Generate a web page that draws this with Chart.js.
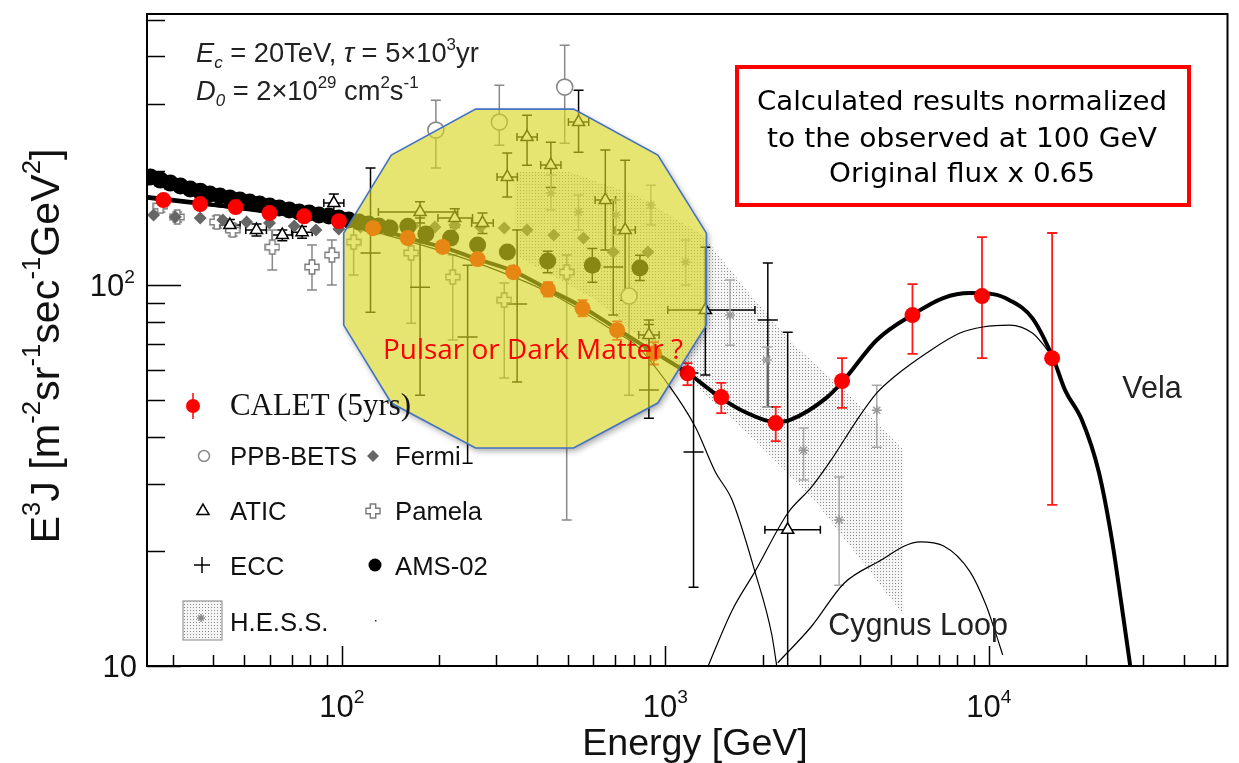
<!DOCTYPE html>
<html>
<head>
<meta charset="utf-8">
<script src="https://cdn.jsdelivr.net/npm/chart.js@4.4.1/dist/chart.umd.min.js"></script>
<style>
html,body{margin:0;padding:0;background:#fff;}
#chart{display:block;}
</style>
</head>
<body>
<canvas id="chart" width="1239" height="763"></canvas>
<script>
'use strict';

// CALET (5yrs) : energy [GeV], E^3 J, error low / high
var calet_E  = [28.1,36.5,47,59.8,76.5,98,125,160,205,263,339,434,555,710,922,1172,1490,2195,3520,5810,9530,15700];
var calet_J  = [167.7,163.7,160.7,155,152,147.6,141.5,133.3,126.3,117.3,108.4,97.7,87.1,76.3,66.4,58.8,50.9,43.5,56.1,83.6,93.8,64.4];
var calet_lo = [164,160,157,151,148,143.5,137.5,129.5,122.5,113.5,104.5,93.5,83,72,62,54.7,46.2,39,47.7,66.1,64.4,26.5];
var calet_hi = [171,167,164.5,159,156,151.5,145.5,137,130,121,112.5,102,91.5,80.5,71,62.5,55.5,48,64.4,100.8,134,137.4];

// AMS-02
var ams_E  = [25.6,27.5,29.5,31.7,34.0,36.5,39.1,42.0,45.1,48.4,51.9,55.7,59.8,64.1,68.8,73.8,79.2,85.0,91.2,97.9,105,113,121,130,141,160,182,217,263,325,433,595,835];
var ams_J  = [192.7,189.2,185.8,182.5,179.2,177.0,173.9,171.8,169.7,167.7,165.7,163.7,161.7,159.8,157.8,155.9,155.0,153.1,152.2,150.4,148.6,146.8,145.0,143.3,141.6,143.2,136.5,133.2,127.7,122.4,115.9,113.1,111.1];
var ams_lo = [null,null,null,null,null,null,null,null,null,null,null,null,null,null,null,null,null,null,null,null,null,null,null,null,null,null,null,null,124,118,108,102,103];
var ams_hi = [null,null,null,null,null,null,null,null,null,null,null,null,null,null,null,null,null,null,null,null,null,null,null,null,null,null,null,null,131,127,123,125,120];

// Fermi
var fermi_E = [26.2,30.6,36.5,42.9,50.8,59.8,71.3,83.2,97.9,114.3,139.3,166.2,194.1,223.5,268.5,317.9,373.9,452.2,558.9,690.6,883.7];
var fermi_J = [153.1,151.3,150.4,148.6,146.8,145.9,143.3,139.8,140.7,142.4,144.1,143.3,142.4,144.1,142.4,141.6,139.8,135.7,133.2,122.4,122.4];

// Pamela
var pam_E  = [27.5,31.0,41.1,46.0,61.0,80.9,93.2,108.8,163.9,220.3,317.9,495.8];
var pam_J  = [161.7,151.3,146.8,139.8,126.1,111.8,120.2,130.0,121.7,105.2,91.5,108.4];
var pam_lo = [155.9,146.8,141.6,134.9,109.8,97.3,100.3,106.5,79.6,71.9,57.1,24.2];
var pam_hi = [167.7,155.9,152.2,145.0,139.8,127.7,131.6,153.1,142.4,120.2,101.5,120.2];

// ATIC
var atic_E   = [45.1,54.5,65.5,75.4,94.5,174.6,223.5,272.3,324.7,373.9,442.9,539.5,652.7,751.6,890,1330,2390];
var atic_J   = [144.1,139.8,135.7,138.1,164.7,155.9,150.4,145.9,192.7,245.5,207.3,268.8,167.7,139.8,74.1,86.2,22.8];
var atic_lo  = [139,135,131,133,156,146,142,137,170.8,207,181,224,123.9,91.5,68,58.2,9];
var atic_hi  = [149,145,140,143,174,166,159,155,222.8,280,238,326,227,213.5,79,126,75.4];
var atic_xlo = [42,50.5,61,70,88,129.8,198.3,252,302,348,412,502,607,700,828,1018,2032];
var atic_xhi = [48.5,58.5,70.5,81,101.5,228.2,253.7,294,349,402,476,580,702,808,957,1893,3016];

// PPB-BETS
var ppb_E  = [195.4,306.9,488.8,773];
var ppb_J  = [256.1,268.8,332.2,93.8];
var ppb_lo = [203.6,233.8,236.6,51.5];
var ppb_hi = [307,336,428,139.8];

// ECC
var ecc_E  = [122.7,174.6,244.9,348.4,690.6,890,1223,2075];
var ecc_J  = [121.7,99.0,73.2,89.4,111.8,53.1,36.5,81.1];
var ecc_lo = [85.1,51.5,34.1,55.8,83.6,44.8,16.1,47.9];
var ecc_hi = [203.5,150.4,113.1,139.8,167.7,81.1,58.9,114.5];

// H.E.S.S. points and systematic band
var hess_E  = [442.9,539.5,705.4,902.8,1156,1586,2060,2675,3448,4507];
var hess_J  = [174.9,155.9,153.1,162.7,115.2,83.6,63.7,36.9,24.2,47.0];
var hess_lo = [157.8,139.8,135.7,144.1,100.3,69.7,47.9,30.8,16.3,37.6];
var hess_hi = [195.1,172.8,167.7,183.5,131.6,103.3,68.9,42.2,31.4,54.7];
var hessBand_upE = [343,506,812,1302,1893,2510,3571,5453];
var hessBand_up  = [198.6,198.6,172.8,135.7,91.5,69.7,53.1,36.9];
var hessBand_loE = [343,612,1340,1893,2890,5453];
var hessBand_lo  = [120.2,91.5,51.5,39.2,27.3,13.6];

// model curves
var total_E = [25.1,36.5,59.8,97.9,125.3,160.4,205.3,262.8,338.8,433.6,555.1,710.4,922.1,1172,1489,1764,2180,2424,3168,3546,4507,5853,7231,8746,10287,11597,13637,15815,17212,19406,21878,23977,25725,27610];
var total_J = [170.8,164.7,155.9,147.7,142.4,133.2,126.1,117.3,109.1,97.8,87.7,76.8,66.8,58.9,50.6,46.5,43.8,44.3,50.9,56.1,71.9,84.1,92.7,95.5,94.9,91.5,82.1,64.4,53.1,44.3,32.4,21.7,14.5,9.5];
var bg_E   = [25.1,97.9,160.4,262.8,433.6,710.4,812.2,1025,1240,1427,1609,1893,2134,2227];
var bg_J   = [168.7,145.9,130.8,114.5,96.1,75.0,69.7,54.7,42.4,32.4,27.3,17.7,12.1,9.6];
var vela_E = [1330,1609,1893,2390,2830,3258,3913,4507,5082,6412,8151,9586,11597,13637,14942,15815];
var vela_J = [9.6,14.0,17.7,25.2,29.5,34.8,44.3,52.2,57.4,66.4,75.0,77.8,78.7,75.0,68.9,64.4];
var cyg_E  = [2227,2830,3571,4507,6147,7231,8746,9790,10505,11040];
var cyg_J  = [10.2,12.7,16.5,18.7,21.2,20.7,17.7,14.5,12.2,10.7];

// highlighted region (yellow 12-gon)
var blob_E = [101.4,142.3,259.2,520.9,948.5,1340,1340,948.5,520.9,259.2,142.3,101.4];
var blob_J = [137.3,220.1,290.8,290.8,220.1,137.3,78.7,49.1,37.4,37.4,49.1,78.7];

// axis ranges and tick labels
var xMin = 25, xMax = 54700;
var yMin = 10, yMax = 517;
var xLabelVals = [100, 1000, 10000];
var xLabelExp  = ['2', '3', '4'];
var yLabelVals = [10, 100];
var yLabelExp  = ['', '2'];

var SANS = '"Liberation Sans", Arial, sans-serif';
var SERIF = '"Liberation Serif", "Times New Roman", serif';

function pts(E, J) {
	return E.map(function(e, i) { return {x: e, y: J[i]}; });
}

//空心十字 (Pamela)
function openCross(size, color) {
	var c = document.createElement('canvas');
	c.width = size; c.height = size;
	var g = c.getContext('2d');
	var a = size / 2, t = size * 0.17, L = size / 2 - 1;
	var p = [[-t,-L],[t,-L],[t,-t],[L,-t],[L,t],[t,t],[t,L],[-t,L],[-t,t],[-L,t],[-L,-t],[-t,-t]];
	g.beginPath();
	p.forEach(function(q, i) { if (i === 0) g.moveTo(a + q[0], a + q[1]); else g.lineTo(a + q[0], a + q[1]); });
	g.closePath();
	g.fillStyle = '#fff'; g.fill();
	g.strokeStyle = color; g.lineWidth = 1.4; g.stroke();
	return c;
}
var pamImg = openCross(16, '#7a7a7a');

function stipple(ctx) {
	var c = document.createElement('canvas');
	c.width = 3; c.height = 3;
	var g = c.getContext('2d');
	g.fillStyle = 'rgba(225,225,225,0.35)'; g.fillRect(0, 0, 3, 3);
	g.fillStyle = '#8c8c8c'; g.fillRect(1, 1, 1, 1);
	return ctx.createPattern(c, 'repeat');
}

function fitSize(ctx, text, family, width) {
	ctx.font = '100px ' + family;
	return 100 * width / ctx.measureText(text).width;
}

// text of a given height squeezed to a given width
function squeezeText(ctx, text, cx, cy, size, family, width) {
	ctx.font = size + 'px ' + family;
	var sx = width / ctx.measureText(text).width;
	ctx.save();
	ctx.translate(cx, cy + size * 0.36);
	ctx.scale(sx, 1);
	ctx.textAlign = 'center';
	ctx.textBaseline = 'alphabetic';
	ctx.fillText(text, 0, 0);
	ctx.restore();
}

function richFont(p, size, family) {
	var s = p.s ? size * 0.62 : size;
	return (p.i ? 'italic ' : '') + s.toFixed(1) + 'px ' + family;
}
function richWidth(ctx, parts, size, family) {
	var w = 0;
	parts.forEach(function(p) { ctx.font = richFont(p, size, family); w += ctx.measureText(p.t).width; });
	return w;
}
function drawRich(ctx, parts, x, y, size, family, align) {
	var w = richWidth(ctx, parts, size, family);
	var cx = align === 'center' ? x - w / 2 : (align === 'right' ? x - w : x);
	ctx.textAlign = 'left';
	ctx.textBaseline = 'alphabetic';
	parts.forEach(function(p) {
		ctx.font = richFont(p, size, family);
		var dy = p.s === 'sup' ? -size * 0.45 : (p.s === 'sub' ? size * 0.22 : 0);
		ctx.fillText(p.t, cx, y + dy);
		cx += ctx.measureText(p.t).width;
	});
}

//誤差棒 + H.E.S.S. 帶
var underlay = {
	id: 'underlay',
	beforeDatasetsDraw: function(chart) {
		var ctx = chart.ctx, a = chart.chartArea;
		var xs = chart.scales.x, ys = chart.scales.y;
		ctx.save();
		ctx.beginPath();
		ctx.rect(a.left, a.top, a.right - a.left, a.bottom - a.top);
		ctx.clip();

		// H.E.S.S. band
		ctx.beginPath();
		hessBand_upE.forEach(function(e, i) {
			var px = xs.getPixelForValue(e), py = ys.getPixelForValue(hessBand_up[i]);
			if (i === 0) ctx.moveTo(px, py); else ctx.lineTo(px, py);
		});
		for (var k = hessBand_loE.length - 1; k >= 0; k--) {
			ctx.lineTo(xs.getPixelForValue(hessBand_loE[k]), ys.getPixelForValue(hessBand_lo[k]));
		}
		ctx.closePath();
		ctx.fillStyle = stipple(ctx);
		ctx.fill();

		chart.data.datasets.forEach(function(ds) {
			if (!ds.errY && !ds.errX) return;
			ctx.strokeStyle = ds.errColor || '#000';
			ctx.lineWidth = ds.errWidth || 1.5;
			ds.data.forEach(function(p, i) {
				var px = xs.getPixelForValue(p.x), py = ys.getPixelForValue(p.y);
				ctx.beginPath();
				if (ds.errY && ds.errY[0][i] != null) {
					var y1 = ys.getPixelForValue(ds.errY[0][i]), y2 = ys.getPixelForValue(ds.errY[1][i]);
					ctx.moveTo(px, y1); ctx.lineTo(px, y2);
					ctx.moveTo(px - 5, y1); ctx.lineTo(px + 5, y1);
					ctx.moveTo(px - 5, y2); ctx.lineTo(px + 5, y2);
				}
				if (ds.errX && ds.errX[0][i] != null) {
					var x1 = xs.getPixelForValue(ds.errX[0][i]), x2 = xs.getPixelForValue(ds.errX[1][i]);
					ctx.moveTo(x1, py); ctx.lineTo(x2, py);
					ctx.moveTo(x1, py - 4); ctx.lineTo(x1, py + 4);
					ctx.moveTo(x2, py - 4); ctx.lineTo(x2, py + 4);
				}
				ctx.stroke();
			});
		});
		ctx.restore();
	}
};

//黃色區塊與文字
var overlay = {
	id: 'overlay',
	afterDatasetsDraw: function(chart) {
		var ctx = chart.ctx;
		var xs = chart.scales.x, ys = chart.scales.y;
		var trace = function() {
			blob_E.forEach(function(e, i) {
				var px = xs.getPixelForValue(e), py = ys.getPixelForValue(blob_J[i]);
				if (i === 0) ctx.moveTo(px, py); else ctx.lineTo(px, py);
			});
			ctx.closePath();
		};
		// soft shadow outside only
		ctx.save();
		ctx.beginPath();
		ctx.rect(0, 0, chart.width, chart.height);
		trace();
		ctx.clip('evenodd');
		ctx.beginPath();
		trace();
		ctx.shadowColor = 'rgba(0,0,0,0.35)';
		ctx.shadowBlur = 6;
		ctx.shadowOffsetX = 2;
		ctx.shadowOffsetY = 3;
		ctx.fillStyle = '#fff';
		ctx.fill();
		ctx.restore();

		ctx.save();
		ctx.beginPath();
		trace();
		ctx.fillStyle = 'rgba(216,214,30,0.63)';
		ctx.fill();
		ctx.strokeStyle = '#4472c4';
		ctx.lineWidth = 1.6;
		ctx.stroke();

		ctx.fillStyle = '#ff0000';
		squeezeText(ctx, 'Pulsar or Dark Matter ?', 533, 349, 28, '"Open Sans", sans-serif', 300);
		ctx.restore();
	}
};

//框線、刻度、標籤、圖例
var frame = {
	id: 'frame',
	afterDraw: function(chart) {
		var ctx = chart.ctx, a = chart.chartArea;
		var xs = chart.scales.x, ys = chart.scales.y;
		ctx.save();
		ctx.strokeStyle = '#000';
		ctx.lineWidth = 2;
		ctx.strokeRect(a.left, a.top, a.right - a.left, a.bottom - a.top);

		ctx.lineWidth = 1.5;
		ctx.beginPath();
		[10, 100, 1000, 10000].forEach(function(dec) {
			for (var m = 1; m <= 9; m++) {
				var v = m * dec;
				if (v < xMin || v > xMax) continue;
				var px = Math.round(xs.getPixelForValue(v)) + 0.5;
				ctx.moveTo(px, a.bottom);
				ctx.lineTo(px, a.bottom - (m === 1 ? 20 : 11));
			}
		});
		[10, 100].forEach(function(dec) {
			for (var m = 1; m <= 9; m++) {
				var v = m * dec;
				if (v < yMin || v > yMax) continue;
				var py = Math.round(ys.getPixelForValue(v)) + 0.5;
				ctx.moveTo(a.left, py);
				ctx.lineTo(a.left + (m === 1 ? 34 : 18), py);
			}
		});
		ctx.stroke();

		// tick labels
		ctx.fillStyle = '#111';
		xLabelVals.forEach(function(v, i) {
			drawRich(ctx, [{t: '10'}, {t: xLabelExp[i], s: 'sup'}], xs.getPixelForValue(v), 717, 31, SANS, 'center');
		});
		yLabelVals.forEach(function(v, i) {
			var parts = [{t: '10'}];
			if (yLabelExp[i]) parts.push({t: yLabelExp[i], s: 'sup'});
			drawRich(ctx, parts, i === 0 ? 137 : 135, ys.getPixelForValue(v) + 11, 31, SANS, 'right');
		});

		// axis titles
		var xs2 = fitSize(ctx, 'Energy [GeV]', SANS, 226);
		drawRich(ctx, [{t: 'Energy [GeV]'}], 695, 741 + xs2 * 0.36, xs2, SANS, 'center');
		var yTitle = [{t: 'E'}, {t: '3', s: 'sup'}, {t: 'J [m'}, {t: '-2', s: 'sup'}, {t: 'sr'}, {t: '-1', s: 'sup'},
			{t: 'sec'}, {t: '-1', s: 'sup'}, {t: 'GeV'}, {t: '2', s: 'sup'}, {t: ']'}];
		var ys2 = 30 * 395 / richWidth(ctx, yTitle, 30, SANS);
		ctx.save();
		ctx.translate(44, 346);
		ctx.rotate(-Math.PI / 2);
		drawRich(ctx, yTitle, 0, ys2 * 0.36, ys2, SANS, 'center');
		ctx.restore();

		// parameter text
		var l1 = [{t: 'E', i: 1}, {t: 'c', s: 'sub', i: 1}, {t: ' = 20TeV, '}, {t: 'τ', i: 1}, {t: ' = 5×10'}, {t: '3', s: 'sup'}, {t: 'yr'}];
		var l2 = [{t: 'D', i: 1}, {t: '0', s: 'sub', i: 1}, {t: ' = 2×10'}, {t: '29', s: 'sup'}, {t: ' cm'}, {t: '2', s: 'sup'}, {t: 's'}, {t: '-1', s: 'sup'}];
		var ps = 20 * 283 / richWidth(ctx, l1, 20, SANS);
		ctx.fillStyle = '#222';
		drawRich(ctx, l1, 196, 62, ps, SANS, 'left');
		drawRich(ctx, l2, 196, 100, ps, SANS, 'left');

		// curve labels
		var vs = fitSize(ctx, 'Cygnus Loop', SANS, 180);
		ctx.font = vs.toFixed(1) + 'px ' + SANS;
		ctx.textAlign = 'center';
		ctx.fillText('Vela', 1152, 387 + vs * 0.36);
		ctx.fillText('Cygnus Loop', 918, 624 + vs * 0.36);

		// legend
		var H = Chart.helpers;
		ctx.textAlign = 'left';
		var cs = fitSize(ctx, 'CALET (5yrs)', SERIF, 181);
		ctx.font = cs.toFixed(1) + 'px ' + SERIF;
		ctx.fillStyle = '#111';
		ctx.fillText('CALET (5yrs)', 230, 405 + cs * 0.33);
		var ls = fitSize(ctx, 'PPB-BETS', SANS, 127);
		ctx.font = ls.toFixed(1) + 'px ' + SANS;
		var rows = [['PPB-BETS', 230, 456], ['Fermi', 395, 456], ['ATIC', 230, 511], ['Pamela', 395, 511],
			['ECC', 230, 566], ['AMS-02', 395, 566], ['H.E.S.S.', 230, 622]];
		rows.forEach(function(r) { ctx.fillText(r[0], r[1], r[2] + ls * 0.36); });

		ctx.strokeStyle = '#ff0000'; ctx.fillStyle = '#ff0000'; ctx.lineWidth = 1.5;
		ctx.beginPath(); ctx.moveTo(193, 393); ctx.lineTo(193, 419); ctx.stroke();
		H.drawPoint(ctx, {pointStyle: 'circle', radius: 7, rotation: 0, borderWidth: 0}, 193, 406);
		ctx.strokeStyle = '#888'; ctx.fillStyle = '#fff'; ctx.lineWidth = 1.5;
		H.drawPoint(ctx, {pointStyle: 'circle', radius: 5.5, rotation: 0, borderWidth: 1.5}, 204, 456);
		ctx.fillStyle = '#666';
		H.drawPoint(ctx, {pointStyle: 'rectRot', radius: 6, rotation: 0, borderWidth: 0}, 373, 456);
		ctx.strokeStyle = '#000'; ctx.fillStyle = '#fff';
		H.drawPoint(ctx, {pointStyle: 'triangle', radius: 7, rotation: 0, borderWidth: 1.5}, 203, 511);
		ctx.drawImage(pamImg, 365, 503);
		ctx.strokeStyle = '#000';
		H.drawPoint(ctx, {pointStyle: 'cross', radius: 8, rotation: 0, borderWidth: 1.5}, 202, 565);
		ctx.fillStyle = '#000';
		H.drawPoint(ctx, {pointStyle: 'circle', radius: 6.5, rotation: 0, borderWidth: 0}, 375, 565);
		ctx.fillStyle = stipple(ctx);
		ctx.fillRect(183, 601, 39, 39);
		ctx.strokeStyle = '#999'; ctx.lineWidth = 1.2;
		ctx.strokeRect(183, 601, 39, 39);
		ctx.strokeStyle = '#8a8a8a'; ctx.lineWidth = 1.5;
		H.drawPoint(ctx, {pointStyle: 'star', radius: 4, rotation: 0, borderWidth: 1.5}, 201, 618);
		ctx.fillStyle = '#333';
		ctx.fillRect(375, 620, 1.5, 1.5);

		// note box
		ctx.strokeStyle = '#ff0000';
		ctx.lineWidth = 4;
		ctx.strokeRect(737, 67, 452, 138);
		ctx.fillStyle = '#000';
		var BOX = '"DejaVu Sans", sans-serif';
		squeezeText(ctx, 'Calculated results normalized', 962, 100, 27, BOX, 410);
		squeezeText(ctx, 'to the observed at 100 GeV', 962, 137, 27, BOX, 390);
		squeezeText(ctx, 'Original flux x 0.65', 962, 172, 27, BOX, 266);
		ctx.restore();
	}
};

var ctx = document.getElementById('chart');
var chart = new Chart(ctx, {
	type: 'scatter',
	data: {
		datasets: [{
			label: 'CALET (5yrs)',
			data: pts(calet_E, calet_J),
			pointStyle: 'circle', pointRadius: 8, backgroundColor: '#ff0000', borderWidth: 0,
			errY: [calet_lo, calet_hi], errColor: '#ff1a1a', errWidth: 1.8
		}, {
			label: 'total',
			data: pts(total_E, total_J), showLine: true, pointRadius: 0,
			borderColor: '#000', borderWidth: 4, cubicInterpolationMode: 'monotone'
		}, {
			label: 'background',
			data: pts(bg_E, bg_J), showLine: true, pointRadius: 0,
			borderColor: '#000', borderWidth: 1.2, cubicInterpolationMode: 'monotone'
		}, {
			label: 'Vela',
			data: pts(vela_E, vela_J), showLine: true, pointRadius: 0,
			borderColor: '#000', borderWidth: 1.2, cubicInterpolationMode: 'monotone'
		}, {
			label: 'Cygnus Loop',
			data: pts(cyg_E, cyg_J), showLine: true, pointRadius: 0,
			borderColor: '#000', borderWidth: 1.2, cubicInterpolationMode: 'monotone'
		}, {
			label: 'AMS-02',
			data: pts(ams_E, ams_J),
			pointStyle: 'circle', pointRadius: 8.5, backgroundColor: '#000', borderWidth: 0,
			errY: [ams_lo, ams_hi], errColor: '#000'
		}, {
			label: 'ATIC',
			data: pts(atic_E, atic_J),
			pointStyle: 'triangle', pointRadius: 7, backgroundColor: '#fff', borderColor: '#000', borderWidth: 1.5,
			errY: [atic_lo, atic_hi], errX: [atic_xlo, atic_xhi], errColor: '#000'
		}, {
			label: 'PPB-BETS',
			data: pts(ppb_E, ppb_J),
			pointStyle: 'circle', pointRadius: 8, backgroundColor: '#fff', borderColor: '#888', borderWidth: 1.6,
			errY: [ppb_lo, ppb_hi], errColor: '#888'
		}, {
			label: 'Fermi',
			data: pts(fermi_E, fermi_J),
			pointStyle: 'rectRot', pointRadius: 6.5, backgroundColor: '#666', borderWidth: 0
		}, {
			label: 'Pamela',
			data: pts(pam_E, pam_J),
			pointStyle: pamImg, pointRadius: 8,
			errY: [pam_lo, pam_hi], errColor: '#888'
		}, {
			label: 'ECC',
			data: pts(ecc_E, ecc_J),
			pointStyle: 'line', pointRadius: 10, borderColor: '#000', borderWidth: 1.5,
			errY: [ecc_lo, ecc_hi], errColor: '#000'
		}, {
			label: 'H.E.S.S.',
			data: pts(hess_E, hess_J),
			pointStyle: 'star', pointRadius: 5, borderColor: '#999', borderWidth: 1.5,
			errY: [hess_lo, hess_hi], errColor: '#aaa'
		}]
	},
	options: {
		responsive: false,
		animation: false,
		devicePixelRatio: 1,
		layout: { padding: { top: 14, right: 2, left: 0, bottom: 0 } },
		plugins: { legend: { display: false }, tooltip: { enabled: false } },
		scales: {
			x: {
				type: 'logarithmic', min: xMin, max: xMax,
				ticks: { display: false }, grid: { display: false }, border: { display: false },
				afterFit: function(s) { s.height = 97; }
			},
			y: {
				type: 'logarithmic', min: yMin, max: yMax,
				ticks: { display: false }, grid: { display: false }, border: { display: false },
				afterFit: function(s) { s.width = 147; }
			}
		}
	},
	plugins: [underlay, overlay, frame]
});
</script>
</body>
</html>
